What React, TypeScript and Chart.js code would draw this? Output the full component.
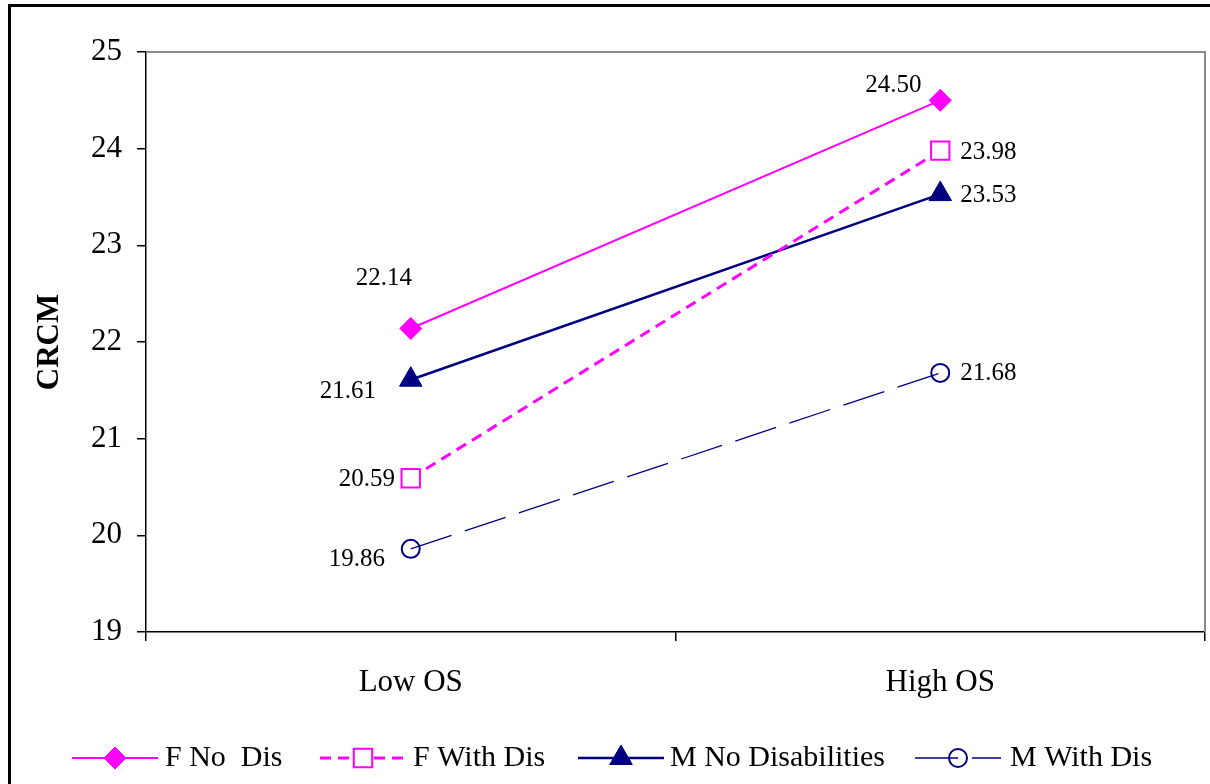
import React, { useEffect, useRef } from "react";
import { Chart, registerables } from "chart.js";

Chart.register(...registerables);

// ---- Data ----
const categories = ["Low OS", "High OS"];
const fNoDis = [22.14, 24.5];
const fWithDis = [20.59, 23.98];
const mNoDis = [21.61, 23.53];
const mWithDis = [19.86, 21.68];
const seriesNames = ["F No  Dis", "F With Dis", "M No Disabilities", "M With Dis"];
const yTicks = [19, 20, 21, 22, 23, 24, 25];
const yTitle = "CRCM";

// ---- Layout / style (not data) ----
const FONT = '"Liberation Serif", "Times New Roman", serif';
const MAGENTA = "#FF00FF";
const NAVY = "#000080";
// label offsets relative to point [dx, dy] per dataset per category
const labelOffsets = [
  [[-27, -50], [-47, -15]],
  [[-44, 1], [48, 2]],
  [[-63, 12], [48, 1]],
  [[-54, 11], [48, 1]],
];
const legendLineX = [72, 320, 578, 915];
const legendTextX = [165, 413, 670, 1010];
const LEGEND_Y = 758;
const LEGEND_LINE_LEN = 86;

function drawMarker(ctx: CanvasRenderingContext2D, style: string, x: number, y: number, r: number, fill: string, stroke: string, bw: number) {
  ctx.save();
  ctx.beginPath();
  if (style === "rectRot") {
    ctx.moveTo(x, y - r);
    ctx.lineTo(x + r, y);
    ctx.lineTo(x, y + r);
    ctx.lineTo(x - r, y);
    ctx.closePath();
  } else if (style === "rect") {
    const s = r * Math.SQRT1_2;
    ctx.rect(x - s, y - s, 2 * s, 2 * s);
  } else if (style === "triangle") {
    for (let k = 0; k < 3; k++) {
      const a = (k * 2 * Math.PI) / 3;
      const px = x + Math.sin(a) * r;
      const py = y - Math.cos(a) * r;
      if (k === 0) ctx.moveTo(px, py);
      else ctx.lineTo(px, py);
    }
    ctx.closePath();
  } else {
    ctx.arc(x, y, r, 0, Math.PI * 2);
  }
  if (fill && fill !== "transparent") {
    ctx.fillStyle = fill;
    ctx.fill();
  }
  ctx.lineWidth = bw;
  ctx.strokeStyle = stroke;
  ctx.setLineDash([]);
  ctx.stroke();
  ctx.restore();
}

const decorPlugin = {
  id: "decor",
  beforeDatasetsDraw(chart: any) {
    const { ctx, chartArea } = chart;
    ctx.save();
    ctx.strokeStyle = "#8a8a8a";
    ctx.lineWidth = 2;
    ctx.beginPath();
    ctx.moveTo(chartArea.left, chartArea.top);
    ctx.lineTo(chartArea.right, chartArea.top);
    ctx.lineTo(chartArea.right, chartArea.bottom);
    ctx.stroke();
    ctx.restore();
  },
  afterDatasetsDraw(chart: any) {
    const { ctx } = chart;
    ctx.save();
    ctx.font = `25px ${FONT}`;
    ctx.fillStyle = "#000";
    ctx.textAlign = "center";
    ctx.textBaseline = "middle";
    chart.data.datasets.forEach((ds: any, i: number) => {
      const meta = chart.getDatasetMeta(i);
      meta.data.forEach((el: any, j: number) => {
        const v = ds.data[j] as number;
        const [dx, dy] = labelOffsets[i][j];
        ctx.fillText(v.toFixed(2), el.x + dx, el.y + dy);
      });
    });
    ctx.restore();
  },
  afterDraw(chart: any) {
    const { ctx } = chart;
    // outer frame
    ctx.save();
    ctx.strokeStyle = "#000";
    ctx.lineWidth = 3;
    ctx.strokeRect(9.5, 5.5, 1400, 1000);
    ctx.restore();
    // legend
    chart.data.datasets.forEach((ds: any, i: number) => {
      const x0 = legendLineX[i];
      const x1 = x0 + LEGEND_LINE_LEN;
      ctx.save();
      ctx.strokeStyle = ds.borderColor;
      ctx.lineWidth = ds.borderWidth;
      ctx.setLineDash(ds.borderDash || []);
      ctx.beginPath();
      ctx.moveTo(x0, LEGEND_Y);
      ctx.lineTo(x1, LEGEND_Y);
      ctx.stroke();
      ctx.restore();
      drawMarker(ctx, ds.pointStyle, (x0 + x1) / 2, LEGEND_Y, ds.pointRadius, ds.pointBackgroundColor, ds.pointBorderColor, ds.pointBorderWidth);
      ctx.save();
      ctx.font = `30px ${FONT}`;
      ctx.fillStyle = "#000";
      ctx.textAlign = "left";
      ctx.textBaseline = "middle";
      ctx.fillText(ds.label, legendTextX[i], LEGEND_Y);
      ctx.restore();
    });
  },
};

export default function App() {
  const ref = useRef<HTMLCanvasElement | null>(null);
  useEffect(() => {
    if (!ref.current) return;
    const chart = new Chart(ref.current, {
      type: "line",
      data: {
        labels: categories,
        datasets: [
          {
            label: seriesNames[0],
            data: fNoDis,
            borderColor: MAGENTA,
            borderWidth: 2,
            pointStyle: "rectRot",
            pointRadius: 11,
            pointBackgroundColor: MAGENTA,
            pointBorderColor: MAGENTA,
            pointBorderWidth: 1,
          },
          {
            label: seriesNames[1],
            data: fWithDis,
            borderColor: MAGENTA,
            borderWidth: 3,
            borderDash: [11, 7],
            pointStyle: "rect",
            pointRadius: 13,
            pointBackgroundColor: "#ffffff",
            pointBorderColor: MAGENTA,
            pointBorderWidth: 2,
          },
          {
            label: seriesNames[2],
            data: mNoDis,
            borderColor: NAVY,
            borderWidth: 2.5,
            pointStyle: "triangle",
            pointRadius: 13,
            pointBackgroundColor: NAVY,
            pointBorderColor: NAVY,
            pointBorderWidth: 1,
          },
          {
            label: seriesNames[3],
            data: mWithDis,
            borderColor: NAVY,
            borderWidth: 1.3,
            borderDash: [43, 14],
            pointStyle: "circle",
            pointRadius: 9,
            pointBackgroundColor: "transparent",
            pointBorderColor: NAVY,
            pointBorderWidth: 2,
          },
        ] as any,
      },
      options: {
        responsive: false,
        animation: false,
        devicePixelRatio: 1,
        layout: { autoPadding: false, padding: { left: 0, top: 52, right: 5, bottom: 0 } },
        plugins: {
          legend: { display: false },
          tooltip: { enabled: false },
          title: { display: false },
        },
        elements: { line: { tension: 0 } },
        scales: {
          x: {
            type: "category",
            offset: true,
            grid: {
              offset: true,
              drawOnChartArea: false,
              drawTicks: true,
              tickLength: 9,
              color: "#000",
              lineWidth: 1.5,
            },
            border: { display: true, color: "#000", width: 1.5 },
            ticks: {
              color: "#000",
              font: { family: FONT, size: 31 },
              padding: 23,
              maxRotation: 0,
            },
            afterFit: (scale: any) => {
              scale.height = 152;
            },
          },
          y: {
            min: 19,
            max: 25,
            grid: {
              drawOnChartArea: false,
              drawTicks: true,
              tickLength: 9,
              color: "#000",
              lineWidth: 1.5,
            },
            border: { display: true, color: "#000", width: 1.5 },
            ticks: {
              color: "#000",
              font: { family: FONT, size: 31 },
              padding: 15,
              stepSize: 1,
            },
            afterBuildTicks: (scale: any) => {
              scale.ticks = yTicks.map((v) => ({ value: v }));
            },
            title: {
              display: true,
              text: yTitle,
              color: "#000",
              font: { family: FONT, size: 31, weight: "bold" },
              padding: { top: 31, bottom: 0 },
            },
            afterFit: (scale: any) => {
              scale.width = 146;
            },
          },
        },
      } as any,
      plugins: [decorPlugin],
    });
    return () => chart.destroy();
  }, []);
  return (
    <div style={{ position: "absolute", left: 0, top: 0, width: 1210, height: 784, background: "#fff" }}>
      <canvas ref={ref} width={1210} height={784} style={{ display: "block" }} />
    </div>
  );
}
